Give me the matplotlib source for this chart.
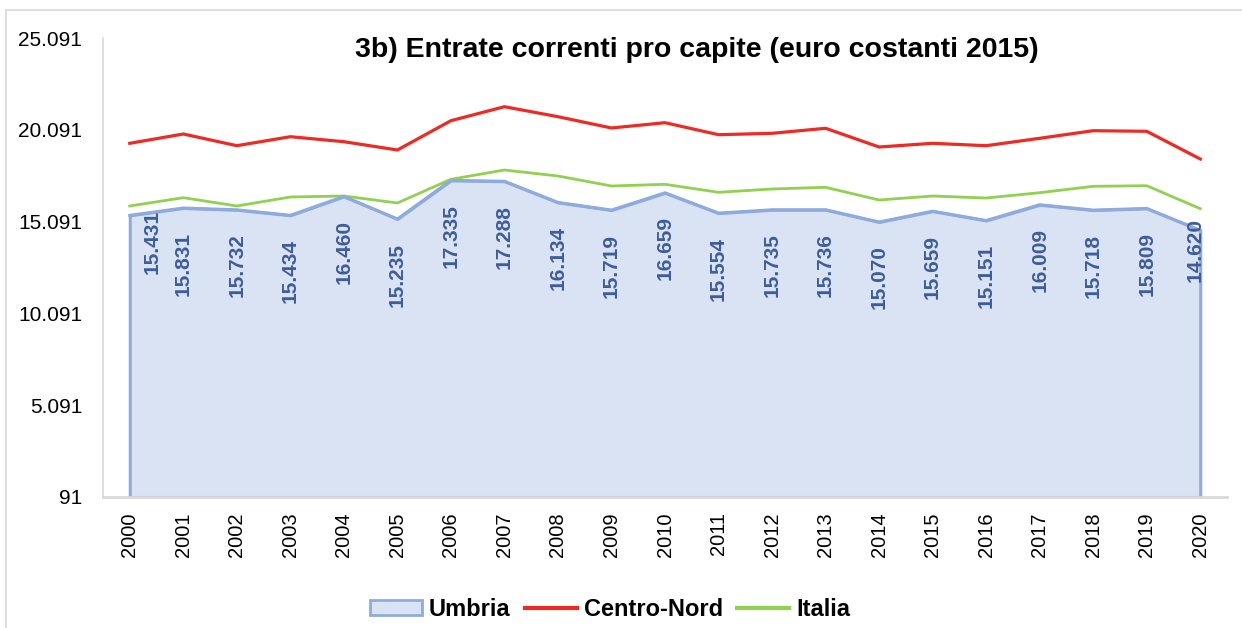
import matplotlib.pyplot as plt
from matplotlib.patches import Patch, Rectangle
from matplotlib.lines import Line2D
from matplotlib.ticker import FixedLocator

plt.rcParams['font.family'] = ['Liberation Sans', 'DejaVu Sans']

years = [str(y) for y in range(2000, 2021)]
umbria = [15431, 15831, 15732, 15434, 16460, 15235, 17335, 17288, 16134, 15719, 16659,
          15554, 15735, 15736, 15070, 15659, 15151, 16009, 15718, 15809, 14620]
centro_nord = [19356, 19862, 19225, 19715, 19443, 18991, 20587, 21349, 20805, 20189, 20478,
               19824, 19900, 20173, 19154, 19356, 19225, 19628, 20042, 20009, 18501]
italia = [15941, 16393, 15941, 16431, 16485, 16104, 17395, 17901, 17575, 17030, 17122,
          16687, 16867, 16959, 16267, 16485, 16376, 16665, 17013, 17046, 15794]
yticks = [91, 5091, 10091, 15091, 20091, 25091]

blue_edge = '#8FAADC'
blue_fill = '#DAE3F3'
red = '#EE2A24'
green = '#92D050'
lab_col = '#3D5C99'
grey = '#D9D9D9'

fig = plt.figure(figsize=(12.42, 6.28), dpi=100)
# chart border
fig.patches.append(Rectangle((6 / 1242, -0.1), 1.2, 1 - 10 / 628 + 0.1,
                             transform=fig.transFigure, fill=False,
                             edgecolor=grey, linewidth=1.2))
ax = fig.add_axes([103 / 1242, 1 - 497 / 628, (1227 - 103) / 1242, (497 - 38) / 628])

x = list(range(len(years)))
ax.fill_between(x, umbria, yticks[0], facecolor=blue_fill, edgecolor=blue_edge,
                linewidth=2.2, zorder=1)
ax.plot(x, centro_nord, color=red, linewidth=2.3, zorder=3)
ax.plot(x, italia, color=green, linewidth=2.0, zorder=2)
ax.plot(x, umbria, color=blue_edge, linewidth=2.2, zorder=2)

# data labels
for i, v in enumerate(umbria):
    dx, dy = 0, -17
    if i == 0:
        dx, dy = 16, 4
    elif i == len(umbria) - 1:
        dx, dy = -4, 9
    ax.annotate(f'{v:,}'.replace(',', '.'), (i, v), xytext=(dx, dy),
                textcoords='offset points', rotation=90, ha='center', va='top',
                fontsize=15, fontweight='bold', color=lab_col, zorder=4)

ax.set_xlim(-0.5, len(years) - 0.5)
ax.set_ylim(yticks[0], yticks[-1])
ax.set_xticks(x)
ax.set_xticklabels(years, rotation=90, fontsize=14.5)
ax.yaxis.set_major_locator(FixedLocator(yticks))
ax.set_yticklabels([f'{t:,}'.replace(',', '.') for t in yticks], fontsize=15)
ax.tick_params(axis='x', length=0, pad=11)
ax.tick_params(axis='y', length=0, pad=15)
for s in ['top', 'right']:
    ax.spines[s].set_visible(False)
ax.spines['left'].set_color(grey)
ax.spines['left'].set_linewidth(1.2)
ax.spines['bottom'].set_color(grey)
ax.spines['bottom'].set_linewidth(2)
ax.patch.set_alpha(0)

fig.text(697 / 1242, 1 - 57 / 628, '3b) Entrate correnti pro capite (euro costanti 2015)',
         ha='center', va='baseline', fontsize=20.5, fontweight='bold')

handles = [Patch(facecolor=blue_fill, edgecolor=blue_edge, linewidth=2),
           Line2D([], [], color=red, linewidth=3),
           Line2D([], [], color=green, linewidth=3)]
fig.legend(handles, ['Umbria', 'Centro-Nord', 'Italia'], loc='center',
           bbox_to_anchor=(610 / 1242, 1 - 609 / 628), ncol=3, frameon=False,
           prop={'size': 17, 'weight': 'bold'}, handlelength=2.2,
           handletextpad=0.3, columnspacing=0.6, handleheight=0.6)

fig.savefig('out.png', dpi=100)
